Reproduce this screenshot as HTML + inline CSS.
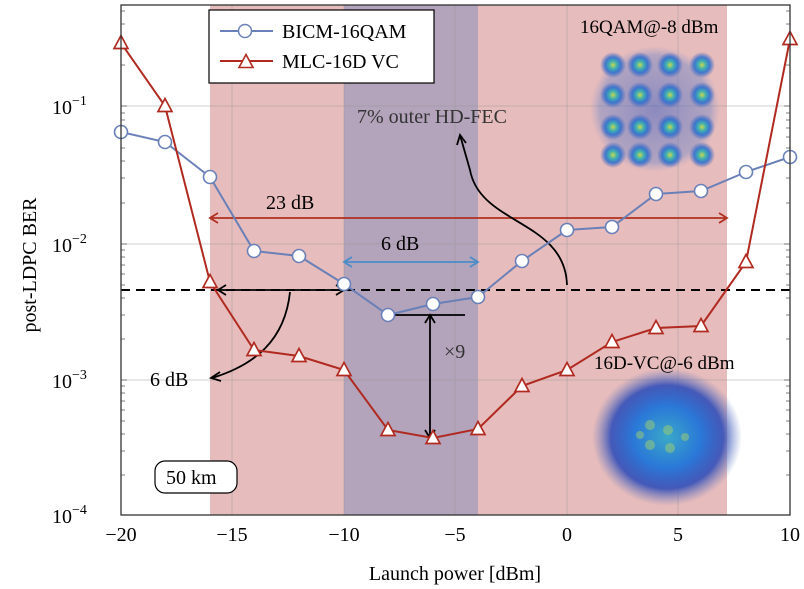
<!DOCTYPE html>
<html><head><meta charset="utf-8"><style>
html,body{margin:0;padding:0;background:#fff;}
svg{display:block;font-family:"Liberation Serif",serif;}
</style></head><body>
<svg width="804" height="589" viewBox="0 0 804 589" xmlns="http://www.w3.org/2000/svg">
<defs>
<radialGradient id="c" cx="50%" cy="50%" r="50%">
<stop offset="0" stop-color="#c8d850"/><stop offset="0.3" stop-color="#40b0b0"/><stop offset="0.6" stop-color="#3070d0" stop-opacity="0.9"/><stop offset="1" stop-color="#4060b8" stop-opacity="0"/>
</radialGradient>
<radialGradient id="b" cx="50%" cy="50%" r="50%">
<stop offset="0" stop-color="#3aa8c8"/><stop offset="0.45" stop-color="#2a78d8"/><stop offset="0.75" stop-color="#2848b8" stop-opacity="0.85"/><stop offset="1" stop-color="#6078c0" stop-opacity="0"/>
</radialGradient>
<radialGradient id="g" cx="50%" cy="50%" r="50%">
<stop offset="0" stop-color="#4060c0" stop-opacity="0.55"/><stop offset="0.85" stop-color="#6080c8" stop-opacity="0.4"/><stop offset="1" stop-color="#8090d0" stop-opacity="0"/>
</radialGradient>
</defs>
<rect x="210" y="5" width="517" height="510" fill="#e7bcbc"/>
<rect x="344" y="5" width="134" height="510" fill="#b3a3bb"/>
<g stroke="#999" stroke-width="0.8" opacity="0.6">
<line x1="121" y1="106" x2="790" y2="106"/><line x1="121" y1="244" x2="790" y2="244"/><line x1="121" y1="380" x2="790" y2="380"/>
<line x1="232" y1="5" x2="232" y2="515"/><line x1="344" y1="5" x2="344" y2="515"/><line x1="455" y1="5" x2="455" y2="515"/><line x1="567" y1="5" x2="567" y2="515"/><line x1="678" y1="5" x2="678" y2="515"/>
</g>
<rect x="590" y="46" width="130" height="126" fill="url(#g)" rx="12"/>
<g fill="url(#c)">
<circle cx="613" cy="65" r="13"/><circle cx="640" cy="65" r="13"/><circle cx="670" cy="65" r="13"/><circle cx="702" cy="65" r="13"/>
<circle cx="613" cy="95" r="13"/><circle cx="640" cy="95" r="13"/><circle cx="670" cy="95" r="13"/><circle cx="702" cy="95" r="13"/>
<circle cx="613" cy="127" r="13"/><circle cx="640" cy="127" r="13"/><circle cx="670" cy="127" r="13"/><circle cx="702" cy="127" r="13"/>
<circle cx="613" cy="155" r="13"/><circle cx="640" cy="155" r="13"/><circle cx="670" cy="155" r="13"/><circle cx="702" cy="155" r="13"/>
</g>
<ellipse cx="667" cy="437" rx="75" ry="69" fill="url(#b)"/>
<g fill="#a0d070" opacity="0.5"><circle cx="650" cy="425" r="5"/><circle cx="668" cy="430" r="5"/><circle cx="650" cy="445" r="5"/><circle cx="670" cy="448" r="5"/><circle cx="685" cy="437" r="4"/><circle cx="640" cy="435" r="4"/></g>
<g stroke="#555" stroke-width="0.8">
<path d="M121,106h6M121,244h6M121,380h6M790,106h-6M790,244h-6M790,380h-6"/>
<path d="M121,65h4M121,41h4M121,24h4M121,11h4M121,203h4M121,178h4M121,161h4M121,148h4M121,137h4M121,128h4M121,120h4M121,113h4M121,339h4M121,315h4M121,298h4M121,285h4M121,274h4M121,265h4M121,257h4M121,250h4M121,475h4M121,451h4M121,434h4M121,421h4M121,410h4M121,401h4M121,393h4M121,386h4"/>
<path d="M790,65h-4M790,41h-4M790,24h-4M790,11h-4M790,203h-4M790,178h-4M790,161h-4M790,148h-4M790,137h-4M790,128h-4M790,120h-4M790,113h-4M790,339h-4M790,315h-4M790,298h-4M790,285h-4M790,274h-4M790,265h-4M790,257h-4M790,250h-4M790,475h-4M790,451h-4M790,434h-4M790,421h-4M790,410h-4M790,401h-4M790,393h-4M790,386h-4"/>
</g>
<line x1="121" y1="290" x2="790" y2="290" stroke="#000" stroke-width="2" stroke-dasharray="9,6"/>
<g fill="none" stroke-width="1.8">
<line x1="212" y1="218" x2="725" y2="218" stroke="#b03020"/>
<path d="M218,213 L210,218 L218,223 M719,213 L727,218 L719,223" stroke="#b03020"/>
<line x1="346" y1="262" x2="476" y2="262" stroke="#4a8cc8"/>
<path d="M352,257 L344,262 L352,267 M470,257 L478,262 L470,267" stroke="#4a8cc8"/>
<line x1="218" y1="290" x2="344" y2="290" stroke="#000"/>
<path d="M226,285 L218,290 L226,295 M336,285 L344,290 L336,295" stroke="#000"/>
<path d="M290,292 C285,340 255,365 212,378" stroke="#000"/>
<path d="M220,372 L211,378 L221,381" stroke="#000"/>
<line x1="430" y1="315" x2="430" y2="438" stroke="#000"/>
<path d="M425,323 L430,315 L435,323 M425,430 L430,438 L435,430" stroke="#000"/>
<line x1="388" y1="315" x2="465" y2="315" stroke="#000"/>
<path d="M567,285 C565,220 480,225 470,170 L460,135" stroke="#000"/>
<path d="M457,145 L460,135 L466,143" stroke="#000"/>
</g>
<polyline fill="none" stroke="#6a80b8" stroke-width="2" points="121,132 165,142 210,177 254,251 299,256 344,284 388,315 433,304 478,297 522,261 567,230 612,227 656,194 701,191 746,172 790,157"/>
<g fill="#fff" stroke="#6a80b8" stroke-width="1.6">
<circle cx="121" cy="132" r="6.5"/><circle cx="165" cy="142" r="6.5"/><circle cx="210" cy="177" r="6.5"/><circle cx="254" cy="251" r="6.5"/><circle cx="299" cy="256" r="6.5"/><circle cx="344" cy="284" r="6.5"/><circle cx="388" cy="315" r="6.5"/><circle cx="433" cy="304" r="6.5"/><circle cx="478" cy="297" r="6.5"/><circle cx="522" cy="261" r="6.5"/><circle cx="567" cy="230" r="6.5"/><circle cx="612" cy="227" r="6.5"/><circle cx="656" cy="194" r="6.5"/><circle cx="701" cy="191" r="6.5"/><circle cx="746" cy="172" r="6.5"/><circle cx="790" cy="157" r="6.5"/>
</g>
<polyline fill="none" stroke="#b02a20" stroke-width="2" points="121,43 165,106 210,282 254,350 299,356 344,370 388,430 433,438 478,429 522,386 567,370 612,342 656,328 701,326 746,262 790,39"/>
<g fill="#fff" stroke="#b02a20" stroke-width="1.7">
<path d="M0,-7.5 L7,5.5 L-7,5.5 Z" transform="translate(121,43)"/>
<path d="M0,-7.5 L7,5.5 L-7,5.5 Z" transform="translate(165,106)"/><path d="M0,-7.5 L7,5.5 L-7,5.5 Z" transform="translate(210,282)"/><path d="M0,-7.5 L7,5.5 L-7,5.5 Z" transform="translate(254,350)"/><path d="M0,-7.5 L7,5.5 L-7,5.5 Z" transform="translate(299,356)"/><path d="M0,-7.5 L7,5.5 L-7,5.5 Z" transform="translate(344,370)"/><path d="M0,-7.5 L7,5.5 L-7,5.5 Z" transform="translate(388,430)"/><path d="M0,-7.5 L7,5.5 L-7,5.5 Z" transform="translate(433,438)"/><path d="M0,-7.5 L7,5.5 L-7,5.5 Z" transform="translate(478,429)"/><path d="M0,-7.5 L7,5.5 L-7,5.5 Z" transform="translate(522,386)"/><path d="M0,-7.5 L7,5.5 L-7,5.5 Z" transform="translate(567,370)"/><path d="M0,-7.5 L7,5.5 L-7,5.5 Z" transform="translate(612,342)"/><path d="M0,-7.5 L7,5.5 L-7,5.5 Z" transform="translate(656,328)"/><path d="M0,-7.5 L7,5.5 L-7,5.5 Z" transform="translate(701,326)"/><path d="M0,-7.5 L7,5.5 L-7,5.5 Z" transform="translate(746,262)"/><path d="M0,-7.5 L7,5.5 L-7,5.5 Z" transform="translate(790,39)"/>
</g>
<rect x="121" y="5" width="669" height="510" fill="none" stroke="#333" stroke-width="1.3"/>
<rect x="209" y="10" width="225" height="73" fill="#fff" stroke="#000" stroke-width="1.2"/>
<line x1="220" y1="31" x2="273" y2="31" stroke="#6a80b8" stroke-width="2"/><circle cx="245" cy="31" r="6.5" fill="#fff" stroke="#6a80b8" stroke-width="1.5"/>
<line x1="220" y1="61" x2="273" y2="61" stroke="#b02a20" stroke-width="2"/><path d="M0,-7.5 L7,5.5 L-7,5.5 Z" transform="translate(246,62)" fill="#fff" stroke="#b02a20" stroke-width="1.6"/>
<g font-size="20" fill="#000">
<text x="282" y="38">BICM-16QAM</text>
<text x="282" y="68">MLC-16D VC</text>
<text x="580" y="33" font-size="19">16QAM@-8 dBm</text>
<text x="357" y="123" fill="#333">7% outer HD-FEC</text>
<text x="266" y="209">23 dB</text>
<text x="381" y="250">6 dB</text>
<text x="150" y="386">6 dB</text>
<text x="444" y="358" fill="#333">×9</text>
<text x="594" y="369" font-size="19">16D-VC@-6 dBm</text>
</g>
<rect x="155" y="461" width="82" height="32" rx="10" fill="#fff" stroke="#000" stroke-width="1.2"/>
<text x="166" y="484" font-size="20">50 km</text>
<g font-size="20" fill="#000">
<text x="52" y="114">10<tspan font-size="14" dy="-9">−1</tspan></text>
<text x="52" y="252">10<tspan font-size="14" dy="-9">−2</tspan></text>
<text x="52" y="388">10<tspan font-size="14" dy="-9">−3</tspan></text>
<text x="52" y="523">10<tspan font-size="14" dy="-9">−4</tspan></text>
</g>
<g font-size="20" text-anchor="middle">
<text x="121" y="541">−20</text><text x="232" y="541">−15</text><text x="344" y="541">−10</text><text x="455" y="541">−5</text><text x="567" y="541">0</text><text x="678" y="541">5</text><text x="790" y="541">10</text>
<text x="455" y="580">Launch power [dBm]</text>
<text transform="translate(36,265) rotate(-90)">post-LDPC BER</text>
</g>
</svg>
</body></html>
